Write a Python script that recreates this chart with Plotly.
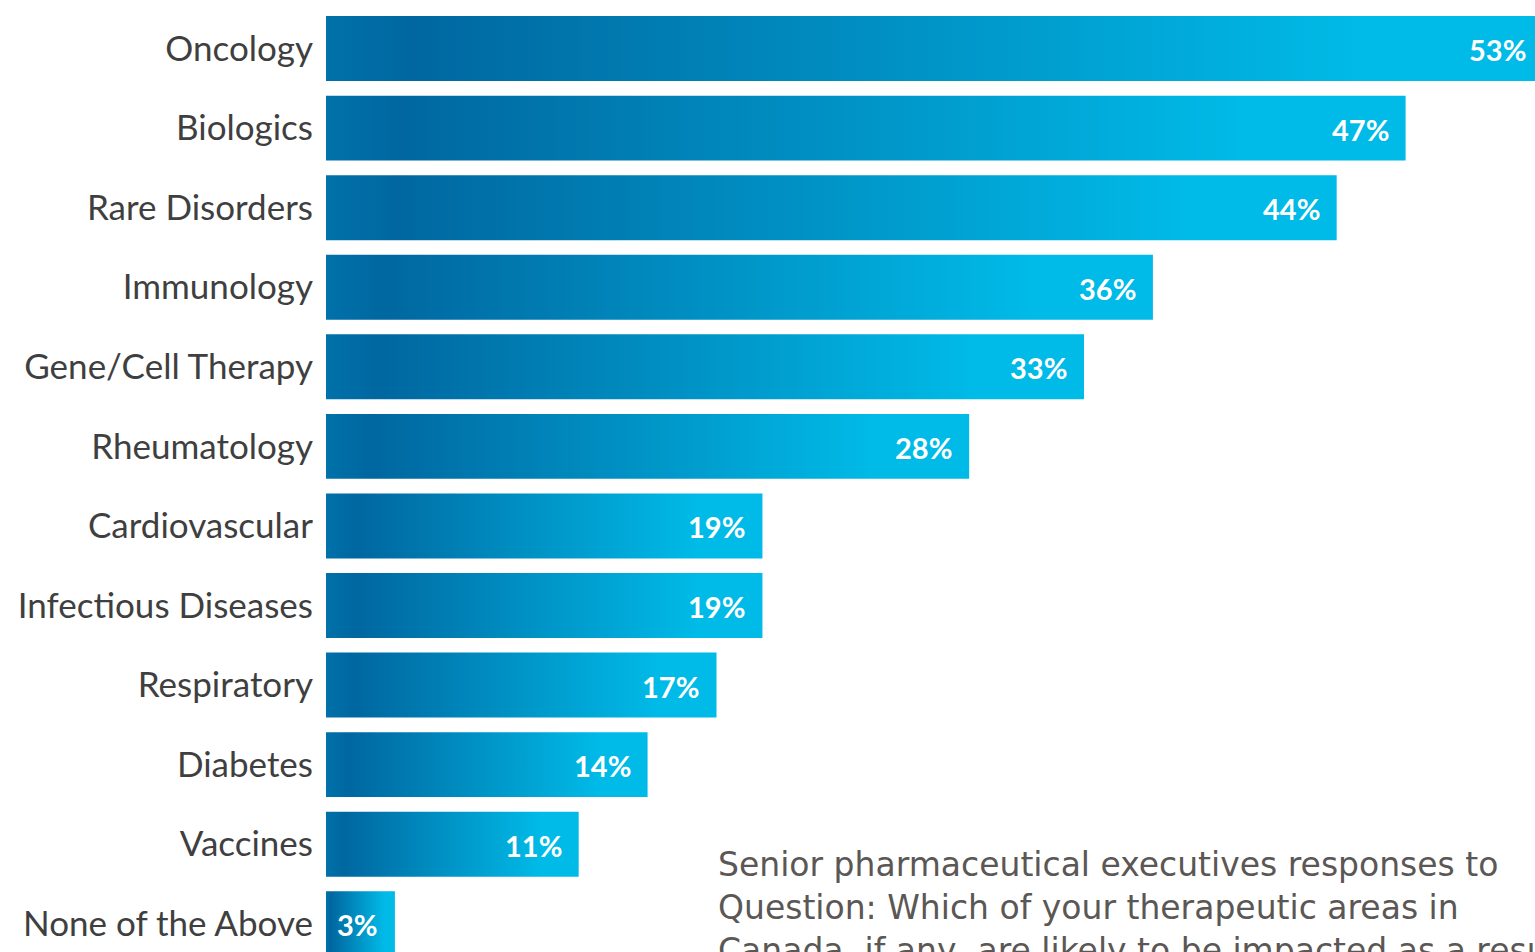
import plotly.graph_objects as go

categories = ["Oncology", "Biologics", "Rare Disorders", "Immunology", "Gene/Cell Therapy",
              "Rheumatology", "Cardiovascular", "Infectious Diseases", "Respiratory",
              "Diabetes", "Vaccines", "None of the Above"]
values = [53, 47, 44, 36, 33, 28, 19, 19, 17, 14, 11, 3]
value_labels = [f"{v}%" for v in values]
caption = ("Senior pharmaceutical executives responses to<br>"
           "Question: Which of your therapeutic areas in<br>"
           "Canada, if any, are likely to be impacted as a result")

FONT = "Lato"
PX_PER_UNIT = 22.97
XMAX = 1209 / PX_PER_UNIT
half = 0.408
gradient = [[0, "#0071a9"], [0.07, "#0067a0"], [0.85, "#00bae7"], [1, "#00bae7"]]

fig = go.Figure()
for i, v in enumerate(values):
    fig.add_trace(go.Scatter(
        x=[0, v, v, 0, 0],
        y=[i - half, i - half, i + half, i + half, i - half],
        mode="lines", line=dict(width=0), fill="toself",
        fillgradient=dict(type="horizontal", colorscale=gradient),
        hoverinfo="skip", showlegend=False))
    ax = min(v, XMAX)
    extra = (v - ax) * PX_PER_UNIT
    fig.add_annotation(x=ax, y=i, xref="x", yref="y", text=value_labels[i],
                       showarrow=False, xanchor="right", yanchor="middle",
                       xshift=-15 + extra, yshift=-1,
                       font=dict(family=FONT, size=29, color="white", weight="bold"))

fig.add_annotation(x=(716 - 326) / 1209, y=1 - 843 / 952, xref="paper", yref="paper",
                   text=caption, showarrow=False, xanchor="left", yanchor="top",
                   align="left", font=dict(family="DejaVu Sans", size=33, color="#5b5755"))

fig.update_layout(
    width=1535, height=952,
    margin=dict(l=326, r=0, t=0, b=0),
    paper_bgcolor="white", plot_bgcolor="white",
    xaxis=dict(range=[0, XMAX], visible=False, fixedrange=True),
    yaxis=dict(range=[11.355, -0.61], tickvals=list(range(len(categories))),
               ticktext=categories, ticks="", showgrid=False, zeroline=False,
               showline=False, ticklabelstandoff=12,
               tickfont=dict(family=FONT, size=35, color="#3f3f3f")),
)
fig.write_html("out.html")
